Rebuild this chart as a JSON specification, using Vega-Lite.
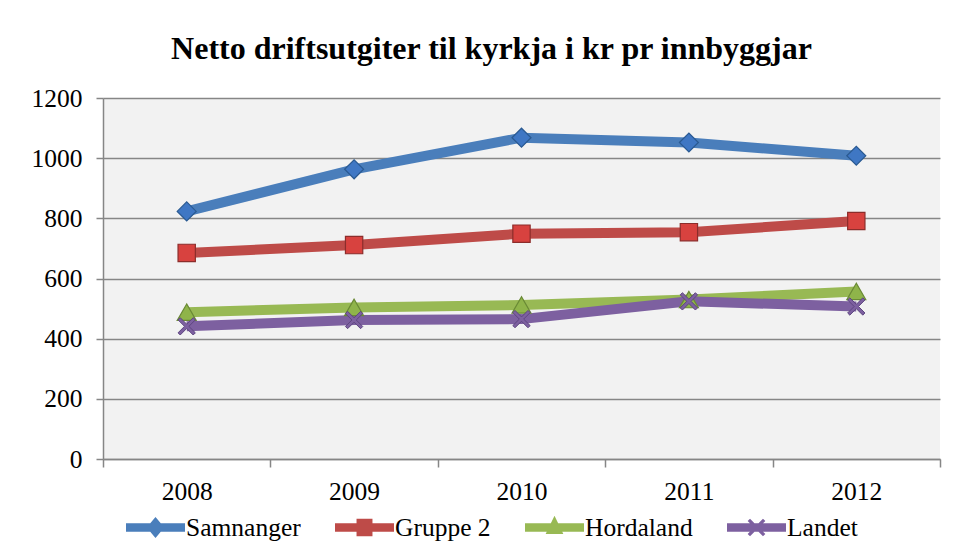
{
  "$schema": "https://vega.github.io/schema/vega-lite/v6.json",
  "width": 837,
  "height": 361,
  "autosize": {"type": "none"},
  "padding": {"left": 103, "top": 98, "right": 20, "bottom": 87},
  "background": "white",
  "title": {
    "text": "Netto driftsutgiter til kyrkja i kr pr innbyggjar",
    "font": "Liberation Serif",
    "fontSize": 32,
    "fontWeight": "bold",
    "color": "black",
    "anchor": "middle",
    "dx": -30,
    "offset": 20
  },
  "data": {
    "values": [
      {"year": "2008", "series": "Samnanger", "value": 823},
      {"year": "2009", "series": "Samnanger", "value": 963},
      {"year": "2010", "series": "Samnanger", "value": 1068},
      {"year": "2011", "series": "Samnanger", "value": 1052},
      {"year": "2012", "series": "Samnanger", "value": 1008},
      {"year": "2008", "series": "Gruppe 2", "value": 685},
      {"year": "2009", "series": "Gruppe 2", "value": 711},
      {"year": "2010", "series": "Gruppe 2", "value": 749},
      {"year": "2011", "series": "Gruppe 2", "value": 754},
      {"year": "2012", "series": "Gruppe 2", "value": 791},
      {"year": "2008", "series": "Hordaland", "value": 488},
      {"year": "2009", "series": "Hordaland", "value": 504},
      {"year": "2010", "series": "Hordaland", "value": 512},
      {"year": "2011", "series": "Hordaland", "value": 530},
      {"year": "2012", "series": "Hordaland", "value": 557},
      {"year": "2008", "series": "Landet", "value": 441},
      {"year": "2009", "series": "Landet", "value": 462},
      {"year": "2010", "series": "Landet", "value": 465},
      {"year": "2011", "series": "Landet", "value": 524},
      {"year": "2012", "series": "Landet", "value": 507}
    ]
  },
  "encoding": {
    "x": {
      "field": "year",
      "type": "ordinal",
      "bandPosition": 0.5,
      "scale": {"type": "band", "paddingInner": 0, "paddingOuter": 0},
      "axis": {
        "title": null,
        "labelAngle": 0,
        "tickBand": "extent",
        "labelFont": "Liberation Serif",
        "labelFontSize": 25.5,
        "labelColor": "black",
        "labelPadding": 12,
        "tickSize": 8,
        "tickColor": "#868686",
        "tickWidth": 1.5,
        "domainColor": "#868686",
        "domainWidth": 1.5,
        "grid": false
      }
    },
    "y": {
      "field": "value",
      "type": "quantitative",
      "scale": {"domain": [0, 1200], "nice": false},
      "axis": {
        "title": null,
        "values": [0, 200, 400, 600, 800, 1000, 1200],
        "format": "d",
        "labelFont": "Liberation Serif",
        "labelFontSize": 25.5,
        "labelColor": "black",
        "labelPadding": 14,
        "tickSize": 7,
        "tickColor": "#868686",
        "tickWidth": 1.5,
        "domainColor": "#868686",
        "domainWidth": 1.5,
        "grid": true,
        "gridColor": "#868686",
        "gridWidth": 1.5
      }
    }
  },
  "layer": [
    {
      "mark": {"type": "line", "strokeWidth": 10, "strokeCap": "butt"},
      "encoding": {
        "color": {
          "field": "series",
          "type": "nominal",
          "sort": ["Samnanger", "Gruppe 2", "Hordaland", "Landet"],
          "scale": {
            "domain": ["Samnanger", "Gruppe 2", "Hordaland", "Landet"],
            "range": ["#4a7ebb", "#be4b48", "#98b954", "#7d60a0"]
          },
          "legend": {
            "title": null,
            "orient": "none",
            "legendX": 23,
            "legendY": 400,
            "direction": "horizontal",
            "symbolType": "stroke",
            "symbolSize": 3481,
            "symbolStrokeWidth": 0,
            "labelFont": "Liberation Serif",
            "labelFontSize": 25.5,
            "labelColor": "black",
            "labelOffset": 1,
            "columnPadding": 34,
            "labelLimit": 300,
            "encode": {
              "symbols": {
                "update": {
                  "shape": {"signal": "datum.value === 'Samnanger' ? 'M-1,-0.14H1V0.14H-1Z M0,-0.36L0.3,0L0,0.36L-0.3,0Z' : datum.value === 'Gruppe 2' ? 'M-1,-0.14H1V0.14H-1Z M-0.27,-0.3H0.27V0.3H-0.27Z' : datum.value === 'Hordaland' ? 'M-1,-0.14H1V0.14H-1Z M0,-0.4L0.3,0.22L-0.3,0.22Z' : 'M-1,-0.14H1V0.14H-1Z M-0.3,-0.22L-0.22,-0.3L0,-0.08L0.22,-0.3L0.3,-0.22L0.08,0L0.3,0.22L0.22,0.3L0,0.08L-0.22,0.3L-0.3,0.22L-0.08,0Z'"},
                  "fill": {"scale": "color", "field": "value"},
                  "fillOpacity": {"value": 1},
                  "strokeWidth": {"value": 0}
                }
              }
            }
          }
        }
      }
    },
    {
      "transform": [{"filter": {"field": "series", "equal": "Samnanger"}}],
      "mark": {"type": "point", "shape": "diamond", "filled": true, "opacity": 1, "fill": "#3f77c4", "stroke": "#2a5a92", "strokeWidth": 1.2, "size": 360}
    },
    {
      "transform": [{"filter": {"field": "series", "equal": "Gruppe 2"}}],
      "mark": {"type": "point", "shape": "square", "filled": true, "opacity": 1, "fill": "#d8423f", "stroke": "#8c2d2b", "strokeWidth": 1.2, "size": 300}
    },
    {
      "transform": [{"filter": {"field": "series", "equal": "Hordaland"}}],
      "mark": {"type": "point", "shape": "triangle-up", "filled": true, "opacity": 1, "fill": "#8fb44a", "stroke": "#6a8a35", "strokeWidth": 1.2, "size": 360}
    },
    {
      "transform": [{"filter": {"field": "series", "equal": "Landet"}}],
      "mark": {"type": "point", "shape": "M-1,-0.75L-0.75,-1L0,-0.25L0.75,-1L1,-0.75L0.25,0L1,0.75L0.75,1L0,0.25L-0.75,1L-1,0.75L-0.25,0Z", "filled": true, "opacity": 1, "fill": "#7d60a0", "stroke": "#5e4680", "strokeWidth": 1, "size": 300}
    }
  ],
  "config": {
    "view": {"fill": "#f2f2f2", "stroke": null},
    "font": "Liberation Serif"
  }
}
